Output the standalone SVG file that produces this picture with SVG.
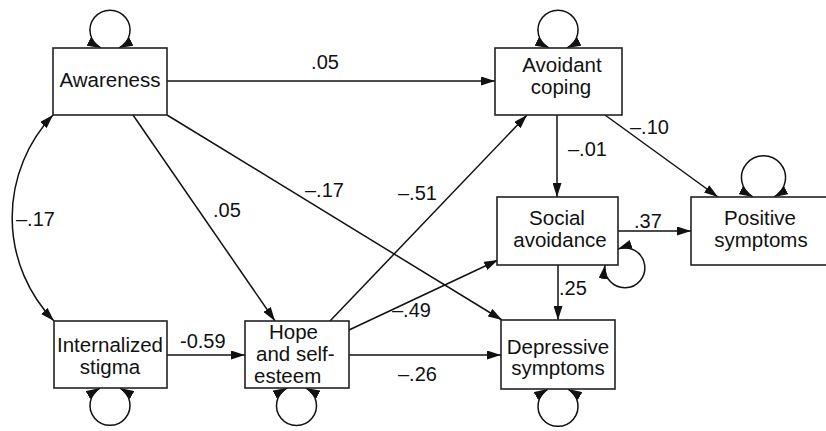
<svg xmlns="http://www.w3.org/2000/svg" width="826" height="431" viewBox="0 0 826 431">
<style>
.box{fill:#fff;stroke:#222;stroke-width:1.6}
.ln{fill:none;stroke:#111;stroke-width:1.5}
.t{font-family:"Liberation Sans",Arial,sans-serif;font-size:20.5px;fill:#111}
.lb{font-family:"Liberation Sans",Arial,sans-serif;font-size:20px;fill:#111}
.c{text-anchor:middle}
</style>
<defs>
<marker id="ah" viewBox="0 0 14 9" refX="14" refY="4.5" markerWidth="14" markerHeight="9" markerUnits="userSpaceOnUse" orient="auto-start-reverse">
<path d="M0,0 L14,4.5 L0,9 Z" fill="#111"/>
</marker>
</defs>
<rect width="826" height="431" fill="#fff"/>
<g id="connectors">
<path class="ln" d="M167,81 L495,81" marker-end="url(#ah)"/>
<path class="ln" d="M53,115 A149,149 0 0 0 54,321" marker-start="url(#ah)" marker-end="url(#ah)"/>
<path class="ln" d="M133,115 L275,321" marker-end="url(#ah)"/>
<path class="ln" d="M167,115 L502,320" marker-end="url(#ah)"/>
<path class="ln" d="M330,321 L527,115" marker-end="url(#ah)"/>
<path class="ln" d="M349,330 L498,260" marker-end="url(#ah)"/>
<path class="ln" d="M349,355 L501,355" marker-end="url(#ah)"/>
<path class="ln" d="M167,355 L245,355" marker-end="url(#ah)"/>
<path class="ln" d="M557,115 L557,197" marker-end="url(#ah)"/>
<path class="ln" d="M605,115 L718,197" marker-end="url(#ah)"/>
<path class="ln" d="M618,231 L691,231" marker-end="url(#ah)"/>
<path class="ln" d="M558,265 L558,320" marker-end="url(#ah)"/>
<path class="ln" d="M101,48 A20,20 0 1 1 119,48" marker-start="url(#ah)" marker-end="url(#ah)"/>
<path class="ln" d="M549,48 A20,20 0 1 1 567,48" marker-start="url(#ah)" marker-end="url(#ah)"/>
<path class="ln" d="M753,197 A22,22 0 1 1 774,197" marker-start="url(#ah)" marker-end="url(#ah)"/>
<path class="ln" d="M605,265 A20,20 0 1 0 618,249" marker-start="url(#ah)" marker-end="url(#ah)"/>
<path class="ln" d="M100,388 A20,20 0 1 0 120,388" marker-start="url(#ah)" marker-end="url(#ah)"/>
<path class="ln" d="M287,388 A20,20 0 1 0 306,388" marker-start="url(#ah)" marker-end="url(#ah)"/>
<path class="ln" d="M548,389 A20,20 0 1 0 568,389" marker-start="url(#ah)" marker-end="url(#ah)"/>
<text class="lb c" x="325" y="69">.05</text>
<text class="lb" x="16" y="226">–.17</text>
<text class="lb" x="213" y="217">.05</text>
<text class="lb" x="305" y="197">–.17</text>
<text class="lb" x="398" y="200">–.51</text>
<text class="lb" x="392" y="317">–.49</text>
<text class="lb" x="398" y="381">–.26</text>
<text class="lb" x="180" y="348">-0.59</text>
<text class="lb" x="568" y="156">–.01</text>
<text class="lb" x="630" y="134">–.10</text>
<text class="lb" x="634" y="228">.37</text>
<text class="lb" x="559" y="295">.25</text>
</g>
<g id="awareness">
<rect class="box" x="53" y="48" width="114" height="67"/>
<text class="t c" x="110" y="87">Awareness</text>
</g>
<g id="avoidant-coping">
<rect class="box" x="495" y="48" width="127" height="67"/>
<text class="t c" x="562" y="72">Avoidant</text>
<text class="t c" x="561" y="94">coping</text>
</g>
<g id="social-avoidance">
<rect class="box" x="497" y="197" width="121" height="68"/>
<text class="t c" x="557" y="225">Social</text>
<text class="t c" x="560" y="247">avoidance</text>
</g>
<g id="positive-symptoms">
<rect class="box" x="691" y="197" width="140" height="68"/>
<text class="t c" x="760" y="225">Positive</text>
<text class="t c" x="761" y="247">symptoms</text>
</g>
<g id="depressive-symptoms">
<rect class="box" x="501" y="320" width="114" height="69"/>
<text class="t c" x="558" y="354">Depressive</text>
<text class="t c" x="558" y="375">symptoms</text>
</g>
<g id="internalized-stigma">
<rect class="box" x="54" y="321" width="113" height="67"/>
<text class="t c" x="110" y="352">Internalized</text>
<text class="t c" x="110" y="374">stigma</text>
</g>
<g id="hope-self-esteem">
<rect class="box" x="245" y="321" width="104" height="67"/>
<text class="t" x="269" y="339">Hope</text>
<text class="t" x="256" y="361">and self-</text>
<text class="t" x="254" y="383">esteem</text>
</g>
</svg>
